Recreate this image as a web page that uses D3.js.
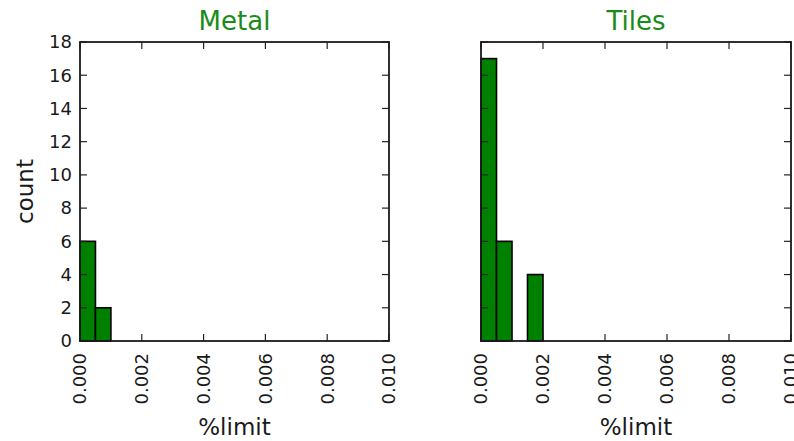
<!DOCTYPE html>
<html>
<head>
<meta charset="utf-8">
<script src="https://cdn.jsdelivr.net/npm/d3@7"></script>
<style>
  html, body { margin: 0; padding: 0; background: #fff; }
  svg { display: block; font-family: "DejaVu Sans", sans-serif; }
</style>
</head>
<body>
<svg id="chart" width="794" height="441"></svg>
<script>
// Histogram data: bin edges are shared, counts per panel
const panels = ["Metal", "Tiles"];
const binEdges = [0, 0.0005, 0.001, 0.0015, 0.002];
const metalCounts = [6, 2, 0, 0];
const tilesCounts = [17, 6, 0, 4];
const xTicks = [0, 0.002, 0.004, 0.006, 0.008, 0.010];
const yTicks = [0, 2, 4, 6, 8, 10, 12, 14, 16, 18];

const countsByPanel = [metalCounts, tilesCounts];

const svg = d3.select("#chart");
const layout = [
  { left: 80, right: 389 },
  { left: 481, right: 791 }
];
const plotTop = 42, plotBottom = 341;
const tickLen = 7;
const textColor = "#1a1a1a";

const y = d3.scaleLinear().domain([0, 18]).range([plotBottom, plotTop]);

panels.forEach((name, p) => {
  const { left, right } = layout[p];
  const x = d3.scaleLinear().domain([0, 0.01]).range([left, right]);
  const g = svg.append("g");

  // bars
  const bins = countsByPanel[p].map((c, i) => ({ x0: binEdges[i], x1: binEdges[i + 1], c }))
    .filter(d => d.c > 0);
  g.selectAll("rect.bar").data(bins).enter().append("rect")
    .attr("class", "bar")
    .attr("x", d => x(d.x0))
    .attr("y", d => y(d.c))
    .attr("width", d => x(d.x1) - x(d.x0))
    .attr("height", d => y(0) - y(d.c))
    .attr("fill", "#008000")
    .attr("stroke", "#000")
    .attr("stroke-width", 1.6);

  // inward ticks on all four sides
  const tk = g.append("g").attr("stroke", "#222").attr("stroke-width", 1.2);
  xTicks.forEach(t => {
    tk.append("line").attr("x1", x(t)).attr("x2", x(t)).attr("y1", plotBottom).attr("y2", plotBottom - tickLen);
    tk.append("line").attr("x1", x(t)).attr("x2", x(t)).attr("y1", plotTop).attr("y2", plotTop + tickLen);
  });
  yTicks.forEach(t => {
    tk.append("line").attr("x1", left).attr("x2", left + tickLen).attr("y1", y(t)).attr("y2", y(t));
    tk.append("line").attr("x1", right).attr("x2", right - tickLen).attr("y1", y(t)).attr("y2", y(t));
  });

  // frame
  g.append("rect")
    .attr("x", left).attr("y", plotTop)
    .attr("width", right - left).attr("height", plotBottom - plotTop)
    .attr("fill", "none").attr("stroke", "#1a1a1a").attr("stroke-width", 1.8);

  // x tick labels, rotated
  g.selectAll("text.xt").data(xTicks).enter().append("text")
    .attr("class", "xt")
    .attr("transform", d => `translate(${x(d)},${plotBottom + 12}) rotate(-90)`)
    .attr("text-anchor", "end")
    .attr("dy", "0.35em")
    .attr("font-size", 18)
    .attr("fill", textColor)
    .text(d => d3.format(".3f")(d));

  // y tick labels only on the first panel (shared y axis)
  if (p === 0) {
    g.selectAll("text.yt").data(yTicks).enter().append("text")
      .attr("class", "yt")
      .attr("x", left - 8)
      .attr("y", d => y(d))
      .attr("dy", "0.35em")
      .attr("text-anchor", "end")
      .attr("font-size", 18)
      .attr("fill", textColor)
      .text(d => d);

    g.append("text")
      .attr("transform", `translate(33,${(plotTop + plotBottom) / 2}) rotate(-90)`)
      .attr("text-anchor", "middle")
      .attr("font-size", 23)
      .attr("fill", textColor)
      .text("count");
  }

  // x axis label
  g.append("text")
    .attr("x", (left + right) / 2)
    .attr("y", 435)
    .attr("text-anchor", "middle")
    .attr("font-size", 23)
    .attr("fill", textColor)
    .text("%limit");

  // panel title
  g.append("text")
    .attr("x", (left + right) / 2)
    .attr("y", 30)
    .attr("text-anchor", "middle")
    .attr("font-size", 26)
    .attr("fill", "#1a8c1a")
    .text(name);
});
</script>
</body>
</html>
